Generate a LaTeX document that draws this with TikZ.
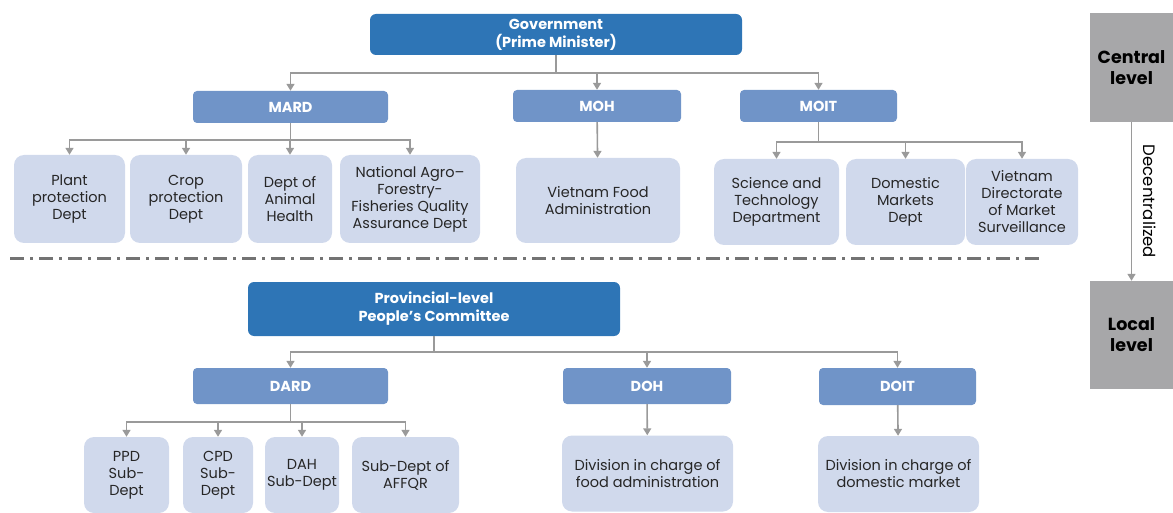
\documentclass[tikz,border=0pt]{standalone}
\usepackage{fontspec}
\setmainfont{Poppins}
\usetikzlibrary{arrows.meta}
\definecolor{govblue}{HTML}{2E75B6}
\definecolor{minblue}{HTML}{7094C8}
\definecolor{deptblue}{HTML}{D0D9EC}
\definecolor{levelgrey}{HTML}{A7A7A9}
\definecolor{linegrey}{HTML}{9A9A9A}
\tikzset{
    box/.style = {rounded corners=6pt, inner sep=0pt, align=center, font=\fontsize{14.5}{17}\selectfont},
    govbox/.style = {box, fill=govblue, text=white, font=\fontsize{14.5}{18}\selectfont\bfseries},
    minbox/.style = {box, fill=minblue, text=white, rounded corners=4pt, font=\fontsize{14.5}{18}\selectfont\bfseries},
    deptbox/.style = {box, fill=deptblue, rounded corners=10pt, text=black!85},
    levelbox/.style = {inner sep=0pt, fill=levelgrey, align=center, font=\fontsize{17.5}{21}\selectfont\bfseries},
    conn/.style = {draw=linegrey, line width=1.6pt, -{Triangle[width=8pt, length=7pt]}}
}
\begin{document}
\begin{tikzpicture}[x=1pt, y=-1pt]
    \useasboundingbox (0, 0) rectangle (1173, 513);
    % central level
    \node [govbox, minimum width=372, minimum height=41] (gov) at (556, 34.5) {Government\\(Prime Minister)};
    \node [minbox, minimum width=195, minimum height=32] (mard) at (290.5, 107) {MARD};
    \node [minbox, minimum width=168, minimum height=32] (moh) at (597, 106) {MOH};
    \node [minbox, minimum width=157, minimum height=32] (moit) at (818.5, 106) {MOIT};
    \node [deptbox, minimum width=111, minimum height=88] (ppd) at (69.5, 199) {Plant\\protection\\Dept};
    \node [deptbox, minimum width=112, minimum height=88] (cpd) at (186, 199) {Crop\\protection\\Dept};
    \node [deptbox, minimum width=84, minimum height=88] (dah) at (290, 199) {Dept of\\Animal\\Health};
    \node [deptbox, minimum width=140, minimum height=88] (naf) at (410, 199) {National Agro–\\Forestry-\\Fisheries Quality\\Assurance Dept};
    \node [deptbox, minimum width=164, minimum height=85] (vfa) at (598, 200.5) {Vietnam Food\\Administration};
    \node [deptbox, minimum width=125, minimum height=86] (std) at (776.5, 202) {Science and\\Technology\\Department};
    \node [deptbox, minimum width=119, minimum height=86] (dmd) at (905.5, 202) {Domestic\\Markets\\Dept};
    \node [deptbox, minimum width=112, minimum height=86] (dms) at (1022, 202) {Vietnam\\Directorate\\of Market\\Surveillance};
    % local level
    \node [govbox, minimum width=372, minimum height=54] (ppc) at (434, 309) {Provincial-level\\People’s Committee};
    \node [minbox, minimum width=195, minimum height=36] (dard) at (290.5, 386) {DARD};
    \node [minbox, minimum width=168, minimum height=36] (doh) at (647, 386) {DOH};
    \node [minbox, minimum width=157, minimum height=37] (doit) at (897.5, 386.5) {DOIT};
    \node [deptbox, minimum width=85, minimum height=76] (ppdsub) at (126.5, 475) {PPD\\Sub-\\Dept};
    \node [deptbox, minimum width=70, minimum height=76] (cpdsub) at (218, 475) {CPD\\Sub-\\Dept};
    \node [deptbox, minimum width=74, minimum height=76] (dahsub) at (302, 475) {DAH\\Sub-Dept};
    \node [deptbox, minimum width=107, minimum height=76] (affqr) at (405.5, 475) {Sub-Dept of\\AFFQR};
    \node [deptbox, minimum width=171, minimum height=76] (fooddiv) at (647.5, 473.5) {Division in charge of\\food administration};
    \node [deptbox, minimum width=161, minimum height=76] (mktdiv) at (898.5, 474) {Division in charge of\\domestic market};
    % levels
    \node [levelbox, minimum width=83, minimum height=109] (central) at (1131.5, 67.5) {Central\\level};
    \node [levelbox, minimum width=83, minimum height=108] (local) at (1131.5, 335) {Local\\level};
    \draw [conn] (central) -- node [rotate=-90, anchor=south, xshift=0pt, yshift=8pt, font=\fontsize{16.5}{20}\selectfont] {Decentralized} (local);
    % connectors
    \foreach \c in {mard, moh, moit}
        \draw [conn] (gov.south) -- ++(0, 18) -| (\c.north);
    \foreach \c in {ppd, cpd, dah, naf}
        \draw [conn] (mard.south) -- ++(0, 17) -| (\c.north);
    \draw [conn] (moh) -- (vfa);
    \foreach \c in {std, dmd, dms}
        \draw [conn] (moit.south) -- ++(0, 20) -| (\c.north);
    \foreach \c in {dard, doh, doit}
        \draw [conn] (ppc.south) -- ++(0, 16) -| (\c.north);
    \foreach \c in {ppdsub, cpdsub, dahsub, affqr}
        \draw [conn] (dard.south) -- ++(0, 18) -| (\c.north);
    \draw [conn] (doh) -- (fooddiv);
    \draw [conn] (doit) -- (mktdiv);
    % separator
    \draw [draw=black!55, line width=3pt, dash pattern=on 14pt off 6pt on 3pt off 6pt] (10, 259) -- (1040, 259);
\end{tikzpicture}
\end{document}
